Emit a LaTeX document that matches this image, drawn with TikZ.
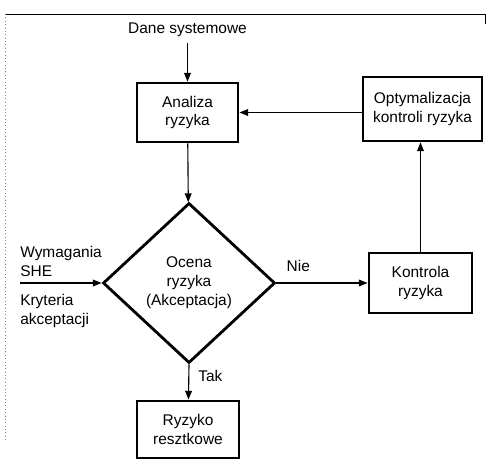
\documentclass[tikz,border=0pt]{standalone}
\usepackage{fontspec}
\setmainfont{Liberation Sans}
\usetikzlibrary{positioning,shapes.geometric,arrows.meta}

\begin{document}
\begin{tikzpicture}[x=0.025cm,y=-0.025cm,
    font=\fontsize{11}{13.5}\selectfont,
    box/.style={draw,line width=2pt,align=center,inner sep=0pt},
    flow/.style={-{Triangle[length=2.2mm,width=1.7mm]},line width=0.8pt}]
  \useasboundingbox (0,0) rectangle (488,463);

  % frame of the page
  \draw[line width=0.6pt] (5,14) -- (485,14) -- (485,24);
  \draw[dotted,gray] (5,14) -- (5,440);

  \node[box,minimum width=2.525cm,minimum height=1.475cm] (analiza) at (187.5,112.5) {Analiza\\ryzyka};
  \node[inner sep=4pt] (dane) at (187.5,30) {Dane systemowe};
  \node[box,minimum width=2.975cm,minimum height=1.6cm] (optym) at (422.5,109) {Optymalizacja\\kontroli ryzyka};
  \node[draw,diamond,line width=2pt,minimum width=4.3cm,minimum height=4cm,align=center,inner sep=0pt] (ocena) at (189,283) {Ocena\\ryzyka\\(Akceptacja)};
  \node[box,minimum width=2.575cm,minimum height=1.5cm] (kontrola) at (420.5,283) {Kontrola\\ryzyka};
  \node[box,minimum width=2.55cm,minimum height=1.425cm] (reszta) at (188,429.5) {Ryzyko\\resztkowe};

  % input from the left
  \coordinate (wejscie) at (20,283);
  \node[above right=4pt and 0pt of wejscie,align=left,inner sep=0pt] (wymag) {Wymagania\\SHE};
  \node[below right=8pt and 0pt of wejscie,align=left,inner sep=0pt] (kryt) {Kryteria\\akceptacji};

  \draw[flow] (dane) -- (analiza);
  \draw[flow] (analiza) -- (ocena);
  \draw[flow] (wejscie) -- (ocena.west);
  \draw[flow] (ocena.east) -- node[pos=0.24,above=4pt] {Nie} (kontrola);
  \draw[flow] (ocena.south) -- node[pos=0.32,right=3pt] {Tak} (reszta);
  \draw[flow] (kontrola.north) -- (kontrola.north |- optym.south);
  \draw[flow] (optym.west |- analiza.east) -- (analiza.east);
\end{tikzpicture}
\end{document}
